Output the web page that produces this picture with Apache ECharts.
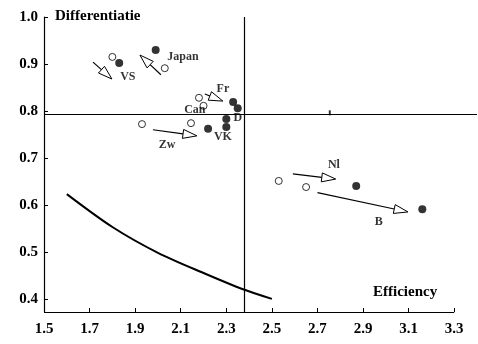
<!DOCTYPE html>
<html>
<head>
<meta charset="UTF-8">
<script src="https://cdn.jsdelivr.net/npm/echarts@6/dist/echarts.min.js"></script>
<style>
  body { margin: 0; background: #fff; }
  #root { width: 478px; height: 344px; }
</style>
</head>
<body>
<div id="root"></div>
<script>
// tick labels
var xTicks = [1.5, 1.7, 1.9, 2.1, 2.3, 2.5, 2.7, 2.9, 3.1, 3.3];
var yTicks = [0.4, 0.5, 0.6, 0.7, 0.8, 0.9, 1.0];

// open circles (earlier position)
var openPoints = [
  [1.80, 0.915], [2.03, 0.891], [2.18, 0.828], [2.20, 0.811],
  [2.145, 0.774], [1.93, 0.772], [2.53, 0.651], [2.65, 0.638]
];
// filled dots (later position)
var filledPoints = [
  [1.83, 0.902], [1.99, 0.930], [2.33, 0.819], [2.35, 0.806],
  [2.30, 0.783], [2.30, 0.766], [2.22, 0.762], [2.87, 0.640], [3.16, 0.591]
];

// arrows: tail x, tail y, tip x, tip y
var arrows = [
  [1.715, 0.904, 1.798, 0.868],
  [2.013, 0.877, 1.921, 0.919],
  [2.206, 0.836, 2.285, 0.821],
  [1.978, 0.760, 2.171, 0.747],
  [2.592, 0.666, 2.780, 0.655],
  [2.700, 0.626, 3.097, 0.585]
];

// country labels
var labels = [
  [1.868, 0.872, 'VS'], [2.110, 0.915, 'Japan'], [2.285, 0.847, 'Fr'],
  [2.162, 0.802, 'Can'], [2.351, 0.785, 'D'], [2.285, 0.745, 'VK'],
  [2.040, 0.728, 'Zw'], [2.772, 0.685, 'Nl'], [2.969, 0.564, 'B']
];

// frontier curve
var curve = [[1.6, 0.623], [1.8, 0.553], [2.0, 0.498], [2.2, 0.455], [2.37, 0.421], [2.5, 0.400]];

// small mark on the horizontal line
var crossMark = [[2.754, 0.796]];

var yMin = 0.372, yMax = 1.0;
var hLine = 0.794, vLine = 2.38;

var serif = 'Liberation Serif';

var chart = echarts.init(document.getElementById('root'));

chart.setOption({
  animation: false,
  grid: { left: 44, right: 1, top: 17, bottom: 32 },
  xAxis: {
    type: 'value', min: 1.5, max: 3.4,
    axisLine: { show: false },
    splitLine: { show: false },
    axisTick: { show: true, inside: true, length: 4, customValues: xTicks, lineStyle: { color: '#000' } },
    axisLabel: {
      customValues: xTicks, margin: 10, color: '#000',
      fontFamily: serif, fontWeight: 'bold', fontSize: 15,
      formatter: function (v) { return v.toFixed(1); }
    }
  },
  yAxis: {
    type: 'value', min: yMin, max: yMax,
    axisLine: { show: true, lineStyle: { color: '#000', width: 1.2 } },
    splitLine: { show: false },
    axisTick: { show: true, inside: true, length: 4, customValues: yTicks, lineStyle: { color: '#000' } },
    axisLabel: {
      customValues: yTicks, margin: 6, color: '#000',
      fontFamily: serif, fontWeight: 'bold', fontSize: 15,
      formatter: function (v) { return v.toFixed(1); }
    }
  },
  graphic: [
    { type: 'text', left: 55, top: 9, style: { text: 'Differentiatie', font: 'bold 15px "Liberation Serif"', fill: '#000' } },
    { type: 'text', left: 373, top: 285, style: { text: 'Efficiency', font: 'bold 15px "Liberation Serif"', fill: '#000' } }
  ],
  series: [
    {
      type: 'line', data: curve, smooth: 0.3, symbol: 'none',
      lineStyle: { color: '#000', width: 2 },
      markLine: {
        silent: true, symbol: 'none', label: { show: false },
        lineStyle: { color: '#000', type: 'solid', width: 1.2 },
        data: [
          [{ coord: [1.5, hLine] }, { coord: [3.4, hLine] }],
          [{ coord: [vLine, yMin] }, { coord: [vLine, yMax] }],
          [{ coord: [1.5, yMin] }, { coord: [3.3, yMin] }]
        ]
      }
    },
    {
      type: 'custom',
      data: arrows,
      encode: { x: [0, 2], y: [1, 3] },
      renderItem: function (params, api) {
        var p1 = api.coord([api.value(0), api.value(1)]);
        var p2 = api.coord([api.value(2), api.value(3)]);
        var dx = p2[0] - p1[0], dy = p2[1] - p1[1];
        var len = Math.sqrt(dx * dx + dy * dy);
        var ux = dx / len, uy = dy / len;
        var hl = 14, hw = 4.5;
        var bx = p2[0] - ux * hl, by = p2[1] - uy * hl;
        return {
          type: 'group',
          children: [
            { type: 'line', shape: { x1: p1[0], y1: p1[1], x2: bx, y2: by }, style: { stroke: '#000', lineWidth: 1.2 } },
            {
              type: 'polygon',
              shape: { points: [[p2[0], p2[1]], [bx - uy * hw, by + ux * hw], [bx + uy * hw, by - ux * hw]] },
              style: { fill: '#fff', stroke: '#000', lineWidth: 1 }
            }
          ]
        };
      }
    },
    {
      type: 'scatter', data: openPoints, symbol: 'circle', symbolSize: 7,
      itemStyle: { color: '#fff', borderColor: '#000', borderWidth: 1 }
    },
    {
      type: 'scatter', data: filledPoints, symbol: 'circle', symbolSize: 8,
      itemStyle: { color: '#000' }
    },
    {
      type: 'scatter', data: crossMark, symbol: 'rect', symbolSize: [2, 5],
      itemStyle: { color: '#000' }
    },
    {
      type: 'scatter', data: labels, symbolSize: 0,
      label: {
        show: true, position: 'inside', color: '#000',
        fontFamily: serif, fontWeight: 'bold', fontSize: 12,
        formatter: function (p) { return p.value[2]; }
      }
    }
  ]
});
</script>
</body>
</html>
